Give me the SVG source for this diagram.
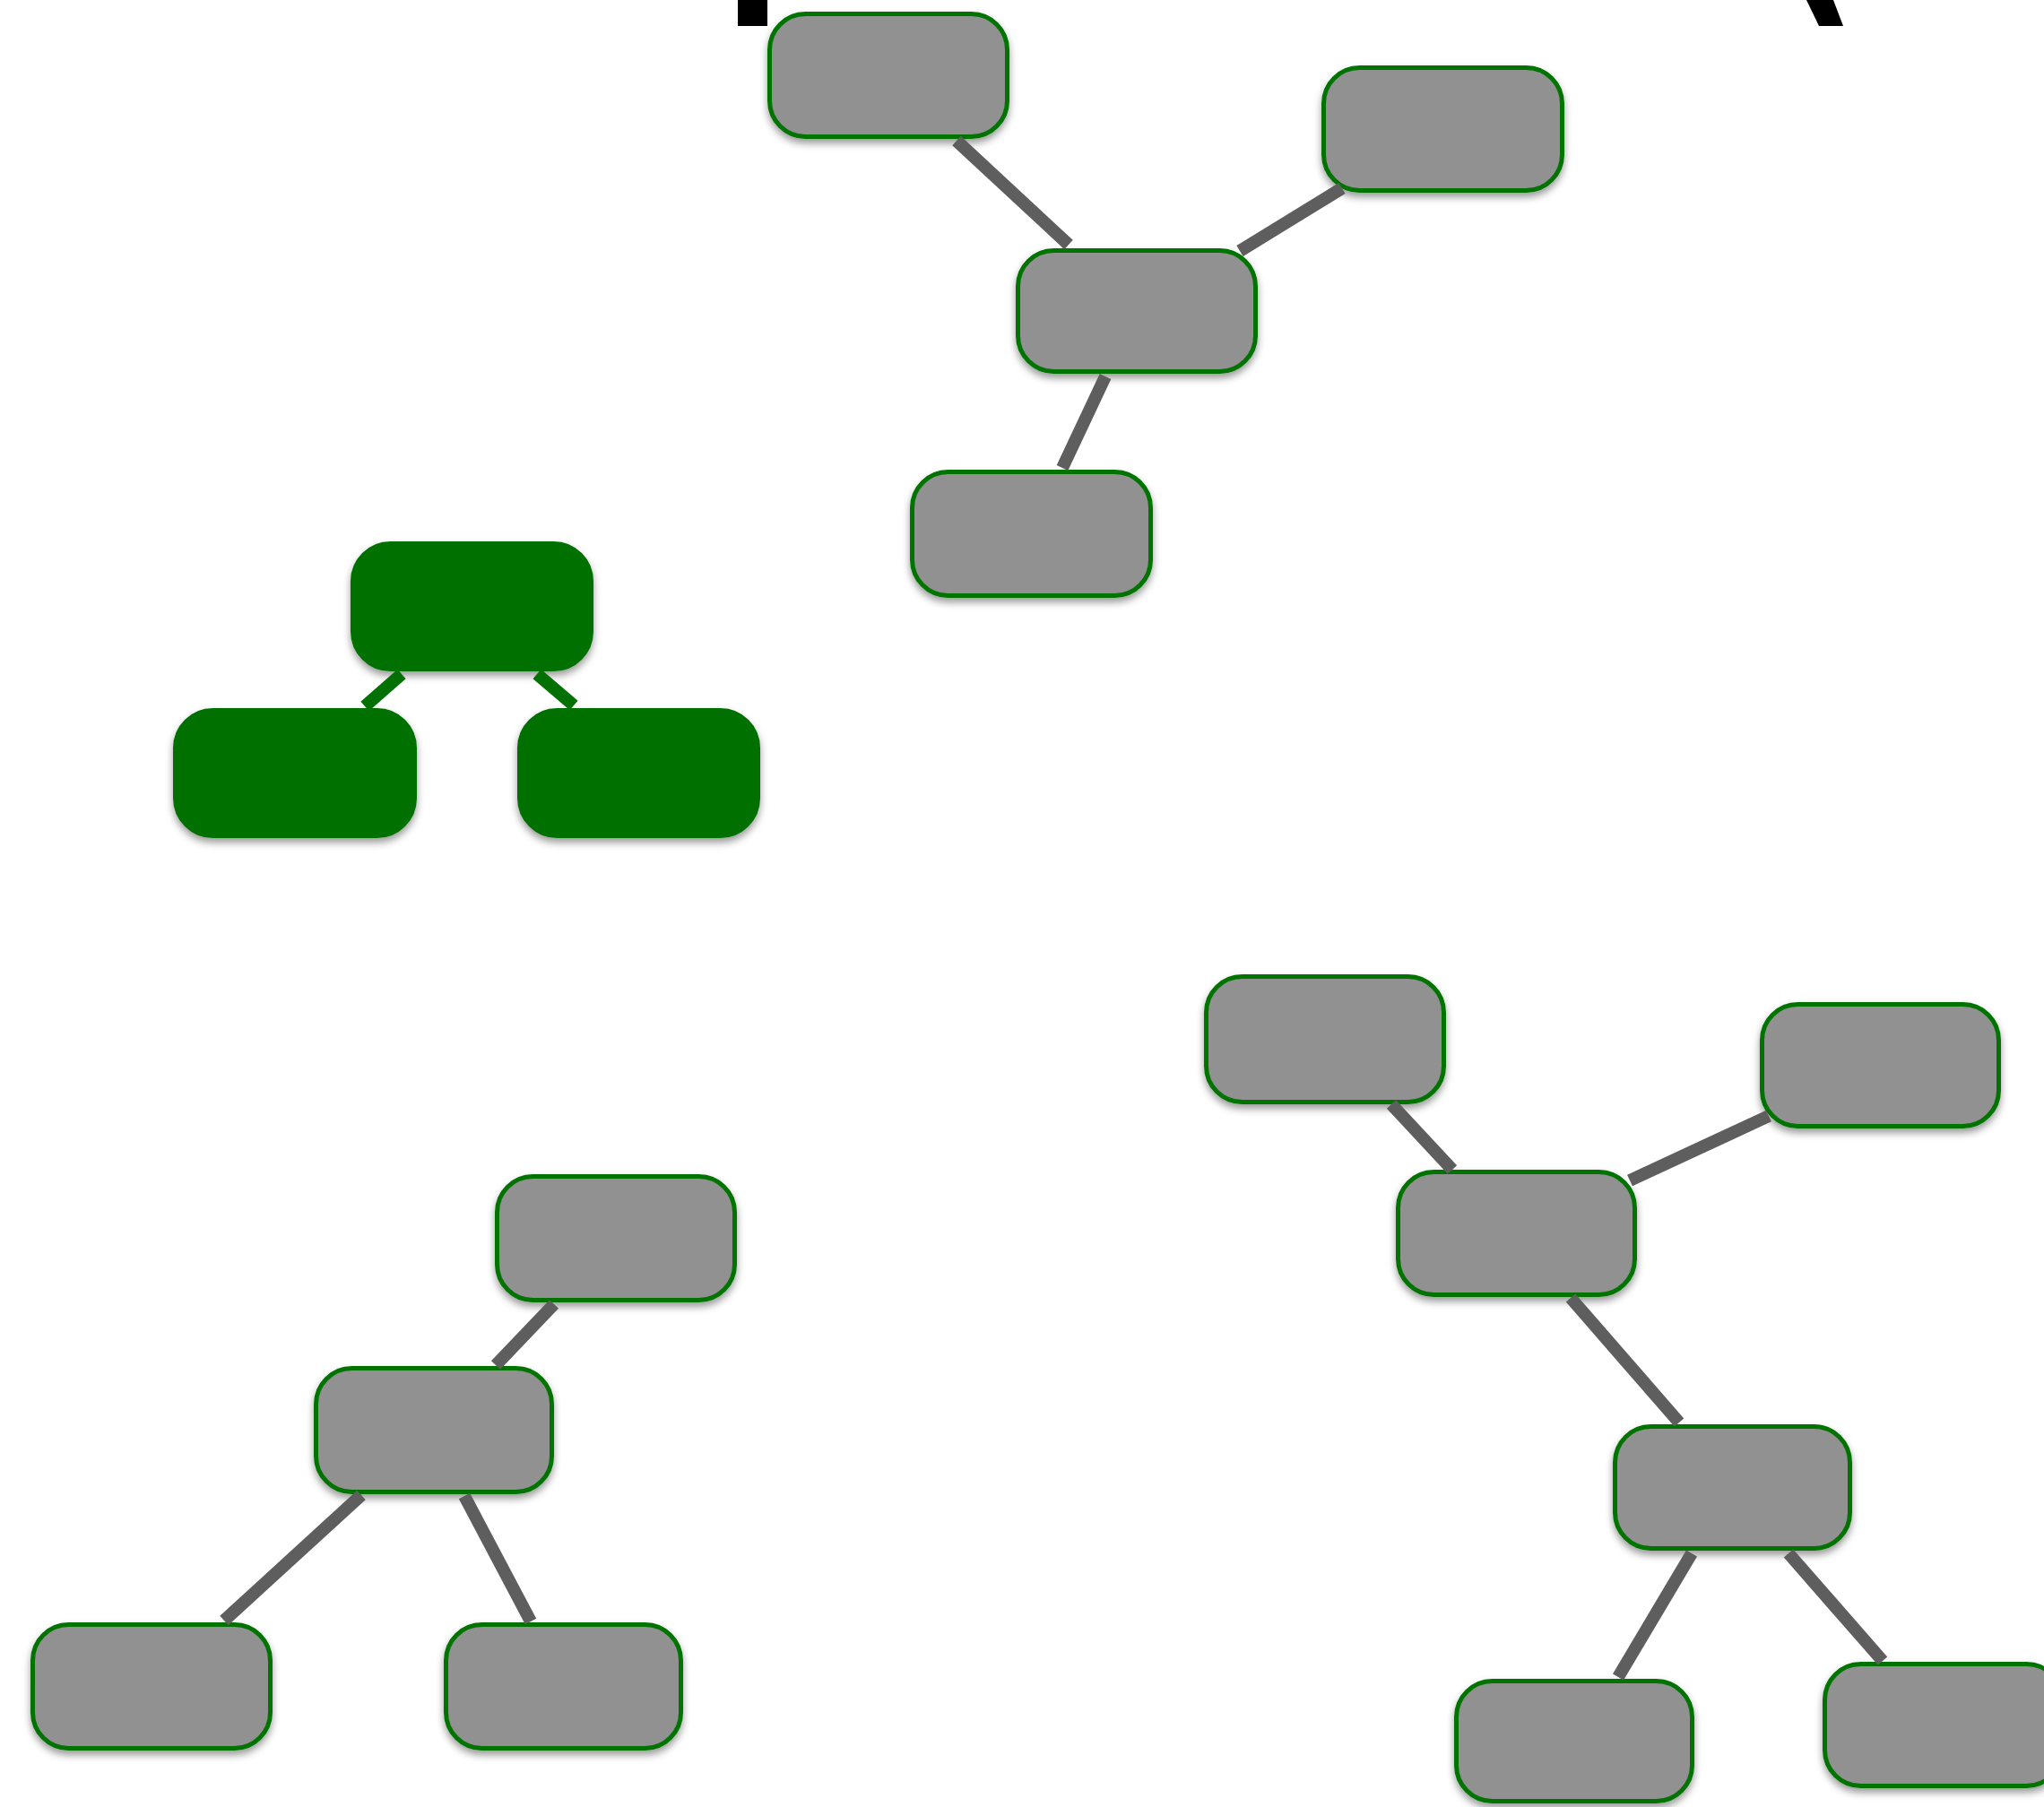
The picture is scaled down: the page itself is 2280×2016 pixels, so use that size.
<svg xmlns="http://www.w3.org/2000/svg" width="2280" height="2016" viewBox="0 0 2280 2016">
  <defs>
    <filter id="sh" x="-10%" y="-10%" width="120%" height="130%">
      <feDropShadow dx="0" dy="5" stdDeviation="4" flood-color="#000" flood-opacity="0.4"/>
    </filter>
  </defs>
  <style>
    .n rect { fill: #919191; stroke: #037303; stroke-width: 5; filter: url(#sh); }
    .g rect { fill: #037003; stroke: #037003; stroke-width: 5; filter: url(#sh); }
    .c line { stroke: #5e5e5e; stroke-width: 14; stroke-linecap: butt; }
    .c .gl { stroke: #037003; }
  </style>
  <rect width="2280" height="2016" fill="#ffffff"/>
  <g id="fragments">
    <rect x="823" y="0" width="33" height="29" fill="#000"/>
    <polygon points="2015,0 2045,0 2056,29 2029,29" fill="#000"/>
  </g>
  <g id="nodeA" class="n"><rect x="858.5" y="15.5" width="265" height="137" rx="40"/></g>
  <g id="nodeB" class="n"><rect x="1476.5" y="75.5" width="266" height="137" rx="40"/></g>
  <g id="nodeC" class="n"><rect x="1135.5" y="279.5" width="265" height="135" rx="40"/></g>
  <g id="nodeD" class="n"><rect x="1017.5" y="526.5" width="266" height="138" rx="40"/></g>
  <g id="nodeG1" class="g"><rect x="393.5" y="606.5" width="266" height="140" rx="42"/></g>
  <g id="nodeG2" class="g"><rect x="195.5" y="792.5" width="267" height="140" rx="42"/></g>
  <g id="nodeG3" class="g"><rect x="579.5" y="792.5" width="266" height="140" rx="42"/></g>
  <g id="nodeL1" class="n"><rect x="554.5" y="1312.5" width="265" height="138" rx="40"/></g>
  <g id="nodeL2" class="n"><rect x="352.5" y="1526.5" width="263" height="138" rx="40"/></g>
  <g id="nodeL3" class="n"><rect x="36.5" y="1812.5" width="265" height="138" rx="40"/></g>
  <g id="nodeL4" class="n"><rect x="497.5" y="1812.5" width="262" height="138" rx="40"/></g>
  <g id="nodeR1" class="n"><rect x="1345.5" y="1089.5" width="265" height="140" rx="40"/></g>
  <g id="nodeR2" class="n"><rect x="1965.5" y="1120.5" width="264" height="136" rx="40"/></g>
  <g id="nodeR3" class="n"><rect x="1559.5" y="1307.5" width="264" height="137" rx="40"/></g>
  <g id="nodeR4" class="n"><rect x="1801.5" y="1591.5" width="262" height="136" rx="40"/></g>
  <g id="nodeR5" class="n"><rect x="1624.5" y="1875.5" width="263" height="134" rx="40"/></g>
  <g id="nodeR6" class="n"><rect x="2035.5" y="1856.5" width="265" height="136" rx="40"/></g>
  <g id="connectors" class="c">
    <line x1="1067" y1="157" x2="1192" y2="273"/>
    <line x1="1383" y1="280" x2="1497" y2="210"/>
    <line x1="1233" y1="420" x2="1185" y2="522"/>
    <line class="gl" x1="448" y1="752" x2="407" y2="788"/>
    <line class="gl" x1="599" y1="752" x2="640" y2="787"/>
    <line x1="618" y1="1455" x2="553" y2="1523"/>
    <line x1="403" y1="1668" x2="250" y2="1808"/>
    <line x1="518" y1="1669" x2="592" y2="1809"/>
    <line x1="1552" y1="1232" x2="1620" y2="1305"/>
    <line x1="1818" y1="1317" x2="1973" y2="1245"/>
    <line x1="1752" y1="1448" x2="1873" y2="1587"/>
    <line x1="1887" y1="1733" x2="1805" y2="1871"/>
    <line x1="1995" y1="1733" x2="2100" y2="1853"/>
  </g>
</svg>
